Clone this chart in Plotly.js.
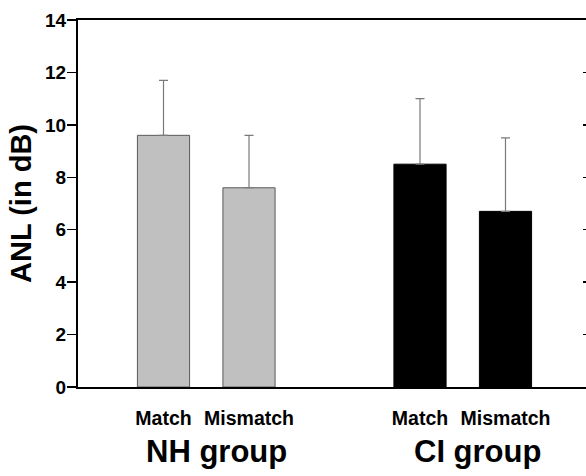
<!DOCTYPE html>
<html>
<head>
<meta charset="utf-8">
<script src="https://cdn.plot.ly/plotly-3.0.1.min.js"></script>
<style>html,body{margin:0;padding:0;overflow:hidden;background:#fff;}#chart{width:600px;height:476px;}</style>
</head>
<body>
<div id="chart"></div>
<script>
// ---- data ----
const conditions = ['Match', 'Mismatch'];
const groups = ['NH group', 'CI group'];
const nhMeans = [9.6, 7.6];
const nhErrors = [2.1, 2.0];
const ciMeans = [8.5, 6.7];
const ciErrors = [2.5, 2.8];
const yTickValues = [0, 2, 4, 6, 8, 10, 12, 14];
const yTitle = 'ANL (in dB)';

// ---- layout helpers ----
const nhX = [1, 2];
const ciX = [4, 5];
const FONT = 'Liberation Sans, Arial, sans-serif';
const bold = s => '<b>' + s + '</b>';

const errStyle = {type: 'data', symmetric: false, color: '#7a7a7a', thickness: 1.2, width: 4.5};

const traces = [
  {
    type: 'bar', name: groups[0], x: nhX, y: nhMeans, width: 0.61,
    marker: {color: '#c0c0c0', line: {color: '#5a5a5a', width: 1}},
    error_y: Object.assign({array: nhErrors, arrayminus: nhErrors.map(() => 0)}, errStyle),
    hoverinfo: 'y'
  },
  {
    type: 'bar', name: groups[1], x: ciX, y: ciMeans, width: 0.61,
    marker: {color: '#000000', line: {color: '#000000', width: 1}},
    error_y: Object.assign({array: ciErrors, arrayminus: ciErrors.map(() => 0)}, errStyle),
    hoverinfo: 'y'
  },
  {
    type: 'scatter', mode: 'markers', x: nhX.concat(ciX), y: nhMeans.concat(ciMeans),
    yaxis: 'y2', marker: {opacity: 0}, hoverinfo: 'skip', showlegend: false
  }
];

const layout = {
  width: 600, height: 476,
  margin: {l: 78, r: 9, t: 20, b: 88.5},
  paper_bgcolor: '#ffffff', plot_bgcolor: '#ffffff',
  showlegend: false,
  barmode: 'overlay',
  font: {family: FONT, color: '#000'},
  xaxis: {
    range: [0, 6], tickvals: nhX.concat(ciX), ticktext: conditions.concat(conditions).map(bold),
    showgrid: false, zeroline: false, showline: true, linewidth: 2, linecolor: '#000',
    mirror: true, ticks: '', ticklabelstandoff: 13,
    tickfont: {family: FONT, size: 19.5, color: '#000', weight: 'bold'}
  },
  yaxis: {
    range: [0, 14], tickvals: yTickValues, ticktext: yTickValues.map(v => bold(v)),
    showgrid: false, zeroline: false,
    showline: true, linewidth: 2, linecolor: '#000',
    ticks: 'outside', ticklen: 9, tickwidth: 1.5, tickcolor: '#000', ticklabelstandoff: -3,
    tickfont: {family: FONT, size: 19, color: '#000', weight: 'bold'},
    title: {text: bold(yTitle), font: {family: FONT, size: 29, color: '#000'}, standoff: 5}
  },
  yaxis2: {
    range: [0, 14], tickvals: yTickValues, overlaying: 'y', side: 'right',
    showgrid: false, zeroline: false, showline: true, linewidth: 2, linecolor: '#000',
    ticks: 'inside', ticklen: 8, tickwidth: 1.5, tickcolor: '#000', showticklabels: false
  },
  annotations: [
    {x: 1.614, y: -0.176, xref: 'x', yref: 'paper', text: bold(groups[0]), showarrow: false,
     xanchor: 'center', yanchor: 'middle', font: {family: FONT, size: 31, color: '#000'}},
    {x: 4.678, y: -0.176, xref: 'x', yref: 'paper', text: bold(groups[1]), showarrow: false,
     xanchor: 'center', yanchor: 'middle', font: {family: FONT, size: 31, color: '#000'}}
  ]
};

Plotly.newPlot('chart', traces, layout, {staticPlot: true, displayModeBar: false});
</script>
</body>
</html>
